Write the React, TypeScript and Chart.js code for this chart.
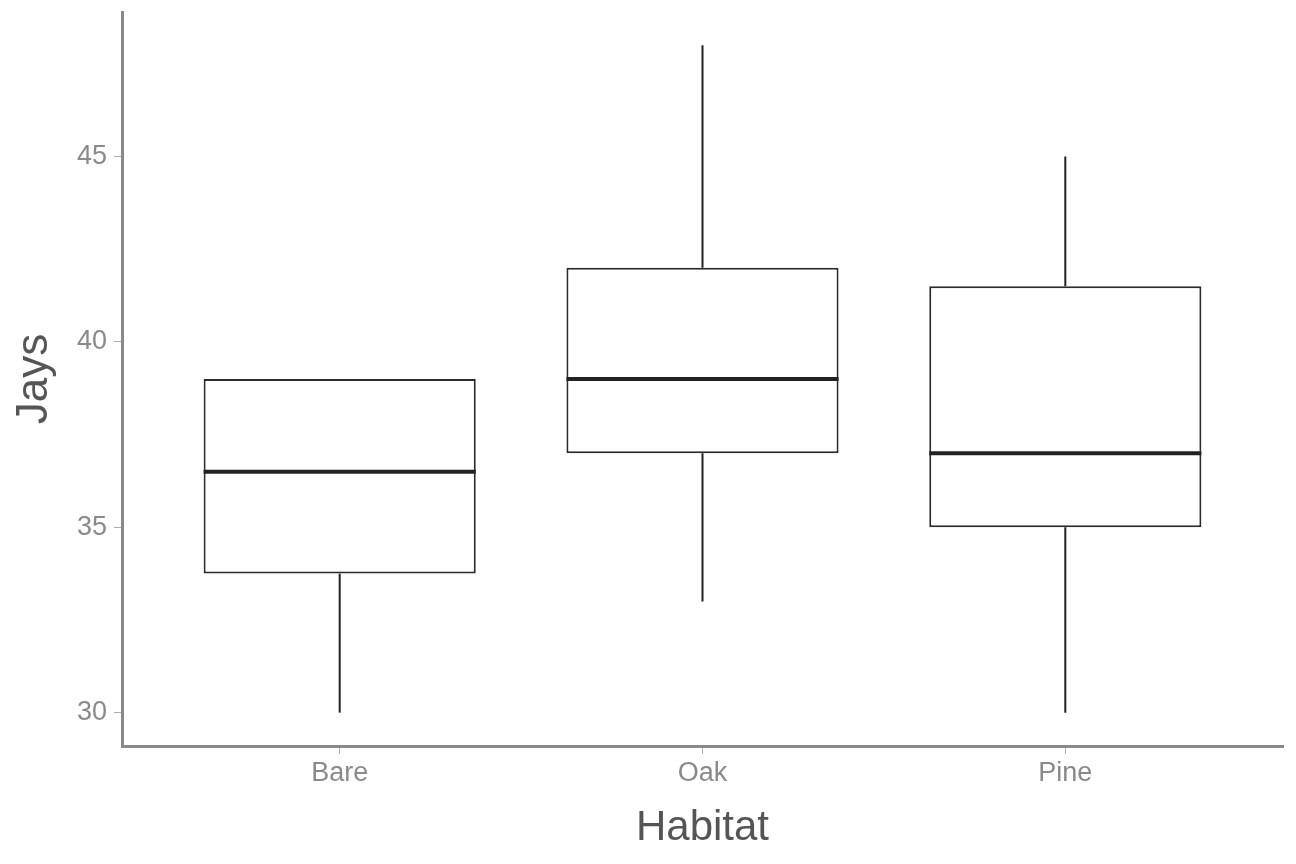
import React, { useEffect, useRef } from "react";
import { Chart, registerables } from "chart.js";

Chart.register(...registerables);

const categories = ["Bare", "Oak", "Pine"];
const categoryPositions = [1, 2, 3];
const whiskerLow = [30, 33, 30];
const q1 = [33.75, 37, 35];
const median = [36.5, 39, 37];
const q3 = [39, 42, 41.5];
const whiskerHigh = [39, 48, 45];
const yTicks = [30, 35, 40, 45];

const FONT = "'Liberation Sans', Arial, sans-serif";

const boxPlugin = {
  id: "boxExtras",
  afterDatasetsDraw(chart: any) {
    const ctx = chart.ctx;
    const xs = chart.scales.x;
    const ys = chart.scales.y;
    const meta = chart.getDatasetMeta(0);
    ctx.save();
    categoryPositions.forEach((pos, i) => {
      const cx = xs.getPixelForValue(pos);
      const bar = meta.data[i];
      const half = bar ? bar.width / 2 : 0;
      ctx.strokeStyle = "#222222";
      ctx.lineWidth = 2;
      ctx.lineCap = "butt";
      ctx.beginPath();
      ctx.moveTo(cx, ys.getPixelForValue(q3[i]));
      ctx.lineTo(cx, ys.getPixelForValue(whiskerHigh[i]));
      ctx.moveTo(cx, ys.getPixelForValue(q1[i]));
      ctx.lineTo(cx, ys.getPixelForValue(whiskerLow[i]));
      ctx.stroke();
      ctx.lineWidth = 4;
      ctx.beginPath();
      const my = ys.getPixelForValue(median[i]);
      ctx.moveTo(cx - half, my);
      ctx.lineTo(cx + half, my);
      ctx.stroke();
    });
    ctx.restore();
  },
};

export default function App() {
  const ref = useRef<HTMLCanvasElement | null>(null);
  useEffect(() => {
    document.body.style.margin = "0";
    if (!ref.current) return;
    const chart = new Chart(ref.current, {
      type: "bar",
      data: {
        datasets: [
          {
            data: categoryPositions.map((p, i) => ({ x: p, y: [q1[i], q3[i]] })) as any,
            backgroundColor: "#ffffff",
            borderColor: "#2b2b2b",
            borderWidth: 2,
            borderSkipped: false,
            barPercentage: 0.75,
            categoryPercentage: 1,
          },
        ],
      },
      options: {
        responsive: false,
        animation: false,
        devicePixelRatio: 1,
        layout: { padding: { top: 12, right: 13, left: 0, bottom: 0 } },
        plugins: { legend: { display: false }, tooltip: { enabled: false } },
        scales: {
          x: {
            type: "linear",
            offset: false,
            min: 0.4,
            max: 3.6,
            afterFit: (s: any) => {
              s.height = 118;
              s.paddingLeft = 0;
              s.paddingRight = 0;
            },
            afterBuildTicks: (s: any) => {
              s.ticks = categoryPositions.map((v) => ({ value: v }));
            },
            ticks: {
              callback: (v: any) => categories[categoryPositions.indexOf(Number(v))] ?? "",
              color: "#8a8a8a",
              font: { family: FONT, size: 27 },
              padding: 3,
              maxRotation: 0,
            },
            grid: {
              offset: false,
              drawOnChartArea: false,
              drawTicks: true,
              tickLength: 8,
              tickColor: "#b0b0b0",
              tickWidth: 1,
            },
            border: { display: true, color: "#8a8a8a", width: 3 },
            title: {
              display: true,
              text: "Habitat",
              color: "#555555",
              font: { family: FONT, size: 42 },
              padding: { top: 10, bottom: 10 },
            },
          },
          y: {
            type: "linear",
            min: 29.1,
            max: 48.9,
            afterFit: (s: any) => {
              s.width = 122;
              s.paddingTop = 0;
              s.paddingBottom = 0;
            },
            afterBuildTicks: (s: any) => {
              s.ticks = yTicks.map((v) => ({ value: v }));
            },
            ticks: {
              color: "#8a8a8a",
              font: { family: FONT, size: 27 },
              padding: 7,
            },
            grid: {
              drawOnChartArea: false,
              drawTicks: true,
              tickLength: 8,
              tickColor: "#b0b0b0",
              tickWidth: 1,
            },
            border: { display: true, color: "#8a8a8a", width: 3 },
            title: {
              display: true,
              text: "Jays",
              color: "#555555",
              font: { family: FONT, size: 44 },
              padding: { top: 8, bottom: 8 },
            },
          },
        },
      },
      plugins: [boxPlugin],
    });
    return () => chart.destroy();
  }, []);
  return (
    <div style={{ position: "absolute", left: 0, top: 0, width: 1296, height: 864 }}>
      <canvas ref={ref} width={1296} height={864} />
    </div>
  );
}
